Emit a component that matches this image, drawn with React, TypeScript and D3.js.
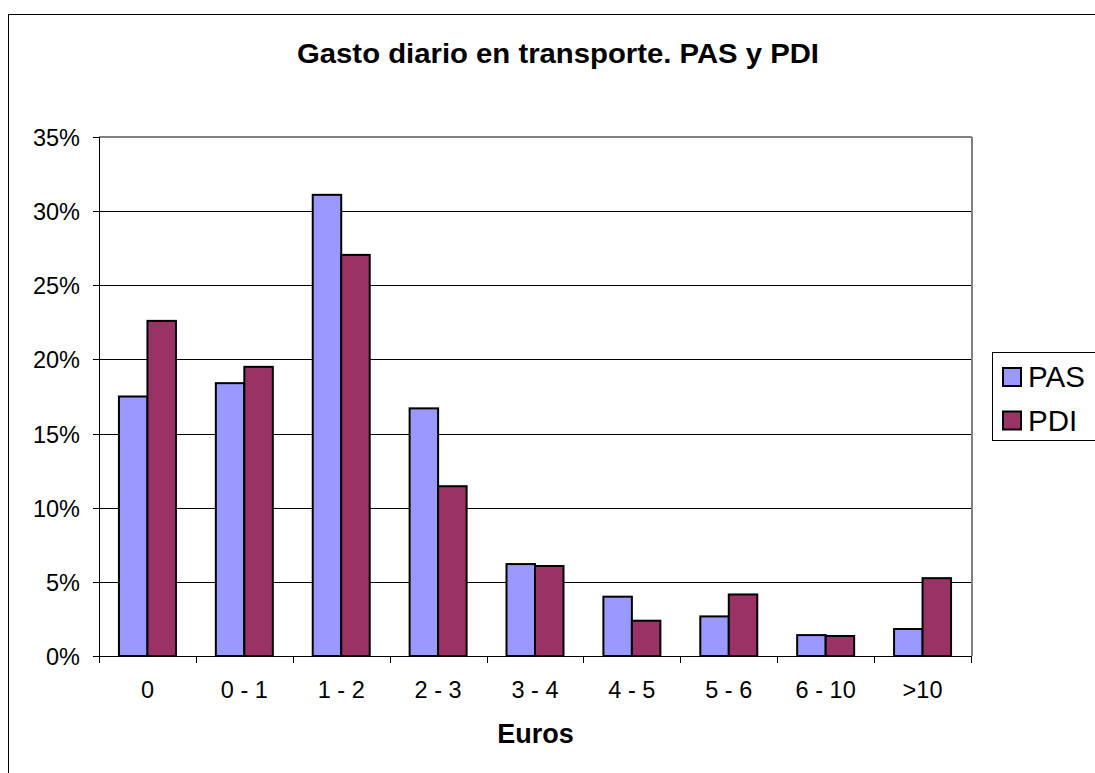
import React from "react";
import * as d3 from "d3";

const categories = ["0", "0 - 1", "1 - 2", "2 - 3", "3 - 4", "4 - 5", "5 - 6", "6 - 10", ">10"];
const pasValues = [17.5, 18.4, 31.1, 16.7, 6.2, 4.0, 2.67, 1.41, 1.82];
const pdiValues = [22.6, 19.5, 27.05, 11.45, 6.07, 2.38, 4.15, 1.35, 5.25];
const seriesNames = ["PAS", "PDI"];
const seriesColors = ["#9999FF", "#993366"];
const yTicks = [0, 5, 10, 15, 20, 25, 30, 35];

const FONT = "'Liberation Sans', Arial, sans-serif";

export default function App() {
  const W = 1095, H = 773;
  const left = 99, right = 971, top = 137, bottom = 656;
  const x = d3.scaleBand<string>().domain(categories).range([left, right]).paddingInner(0).paddingOuter(0);
  const y = d3.scaleLinear().domain([0, 35]).range([bottom, top]);
  const bw = x.bandwidth();
  const barW = bw / 3.4;
  const gap = (bw - 2 * barW) / 2;
  const series = [pasValues, pdiValues];

  return (
    <svg width={W} height={H} style={{ position: "absolute", left: 0, top: 0, background: "#fff" }} fontFamily={FONT}>
      <rect x={8.5} y={14.5} width={1200} height={900} fill="#fff" stroke="#000" strokeWidth={1} />
      <text x={558} y={63} textAnchor="middle" fontSize={28} fontWeight="bold" fill="#000" textLength={522} lengthAdjust="spacingAndGlyphs">
        Gasto diario en transporte. PAS y PDI
      </text>
      {/* gridlines */}
      {yTicks.filter(t => t > 0 && t < 35).map(t => (
        <line key={"g" + t} x1={left} x2={right} y1={Math.round(y(t)) + 0.5} y2={Math.round(y(t)) + 0.5} stroke="#000" strokeWidth={1} />
      ))}
      {/* plot border top/right */}
      <line x1={left} x2={right + 1} y1={top} y2={top} stroke="#808080" strokeWidth={2} />
      <line x1={right + 1} x2={right + 1} y1={top} y2={bottom} stroke="#808080" strokeWidth={2} />
      {/* bars */}
      {categories.map((c, i) => (
        <g key={c}>
          {series.map((vals, s) => {
            const bx = (x(c) as number) + gap + s * barW;
            const by = y(vals[i]);
            return (
              <rect key={s} x={bx} y={by} width={barW} height={bottom - by} fill={seriesColors[s]} stroke="#000" strokeWidth={2} />
            );
          })}
        </g>
      ))}
      {/* y axis */}
      <line x1={left + 0.5} x2={left + 0.5} y1={top} y2={bottom} stroke="#000" strokeWidth={1} />
      {yTicks.map(t => (
        <g key={"t" + t}>
          <line x1={left - 6} x2={left} y1={Math.round(y(t)) + 0.5} y2={Math.round(y(t)) + 0.5} stroke="#000" strokeWidth={1} />
          <text x={80} y={y(t) + 9} textAnchor="end" fontSize={23.5} fill="#000">{t + "%"}</text>
        </g>
      ))}
      {/* x axis */}
      <line x1={left} x2={right + 1} y1={bottom + 0.5} y2={bottom + 0.5} stroke="#000" strokeWidth={1} />
      {d3.range(categories.length + 1).map(i => {
        const tx = Math.round(left + i * bw) + 0.5;
        return <line key={"xt" + i} x1={tx} x2={tx} y1={bottom} y2={bottom + 7} stroke="#000" strokeWidth={1} />;
      })}
      {categories.map(c => (
        <text key={"l" + c} x={(x(c) as number) + bw / 2} y={698} textAnchor="middle" fontSize={23.5} fill="#000">{c}</text>
      ))}
      <text x={535.5} y={743} textAnchor="middle" fontSize={27} fontWeight="bold" fill="#000">Euros</text>
      {/* legend */}
      <rect x={992.5} y={352.5} width={150} height={88} fill="#fff" stroke="#000" strokeWidth={1} />
      {seriesNames.map((n, i) => (
        <g key={n}>
          <rect x={1003} y={368 + i * 43.5} width={18} height={18} fill={seriesColors[i]} stroke="#000" strokeWidth={2} />
          <text x={1028} y={387 + i * 43.5} fontSize={29.5} fill="#000">{n}</text>
        </g>
      ))}
    </svg>
  );
}
